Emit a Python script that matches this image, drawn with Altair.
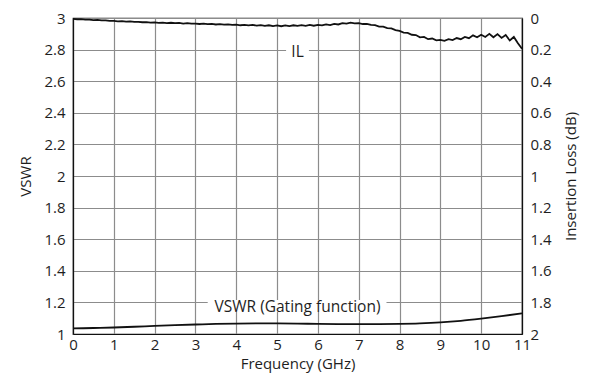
import altair as alt
import pandas as pd

# ---- data ----
il_freq = [round(i * 0.1, 1) for i in range(111)]
il_db = [
    0.006, 0.008, 0.007, 0.010, 0.010, 0.013, 0.012, 0.015, 0.015, 0.018,
    0.018, 0.021, 0.020, 0.023, 0.022, 0.025, 0.024, 0.027, 0.026, 0.029,
    0.028, 0.031, 0.029, 0.032, 0.030, 0.033, 0.031, 0.035, 0.033, 0.036,
    0.035, 0.038, 0.036, 0.039, 0.037, 0.041, 0.039, 0.042, 0.040, 0.044,
    0.042, 0.046, 0.043, 0.047, 0.044, 0.048, 0.045, 0.050, 0.046, 0.051,
    0.047, 0.052, 0.047, 0.051, 0.046, 0.050, 0.045, 0.050, 0.044, 0.049,
    0.043, 0.047, 0.040, 0.045, 0.037, 0.041, 0.033, 0.036, 0.029, 0.034,
    0.032, 0.038, 0.037, 0.044, 0.045, 0.054, 0.055, 0.064, 0.066, 0.077,
    0.082, 0.092, 0.094, 0.106, 0.108, 0.122, 0.120, 0.134, 0.130, 0.142,
    0.138, 0.144, 0.134, 0.140, 0.127, 0.134, 0.120, 0.128, 0.110, 0.122,
    0.106, 0.120, 0.100, 0.122, 0.102, 0.126, 0.108, 0.142, 0.120, 0.160,
    0.195,
]
vswr_freq = [0, 0.5, 1, 1.5, 2, 2.5, 3, 3.5, 4, 4.5, 5, 5.5, 6, 6.5, 7, 7.5,
             8, 8.5, 9, 9.5, 10, 10.5, 11]
vswr_val = [1.035, 1.038, 1.041, 1.046, 1.051, 1.056, 1.060, 1.064, 1.066,
            1.067, 1.067, 1.066, 1.064, 1.063, 1.063, 1.063, 1.064, 1.067,
            1.073, 1.083, 1.097, 1.113, 1.131]

label_text = ["IL", "VSWR (Gating function)"]
label_x = [5.5, 5.5]
label_y = [2.785, 1.174]
box_x1 = [5.22, 3.3]
box_x2 = [5.78, 7.68]
box_y1 = [2.76, 1.14]
box_y2 = [2.82, 1.215]

x_ticks = list(range(0, 12))
vswr_ticks = [1, 1.2, 1.4, 1.6, 1.8, 2, 2.2, 2.4, 2.6, 2.8, 3]
il_ticks = [0, 0.2, 0.4, 0.6, 0.8, 1, 1.2, 1.4, 1.6, 1.8, 2]

il_df = pd.DataFrame({"f": il_freq, "il": il_db})
vswr_df = pd.DataFrame({"f": vswr_freq, "v": vswr_val})
lab_df = pd.DataFrame({"t": label_text, "x": label_x, "y": label_y})
box_df = pd.DataFrame({"x1": box_x1, "x2": box_x2, "y1": box_y1, "y2": box_y2})

FONT = "Open Sans"
TXT = "#1e1e1e"
H = 316

xscale = alt.Scale(domain=[0, 11], nice=False)
xaxis = alt.Axis(values=x_ticks, title="Frequency (GHz)", grid=True,
                 ticks=False, labelPadding=3, titlePadding=4,
                 format="d", labelFlush=False, labelOverlap=False)

yscale = alt.Scale(domain=[1, 3], nice=False)
yaxis = alt.Axis(values=vswr_ticks, title="VSWR", grid=True, ticks=False,
                 labelPadding=8, titlePadding=10, labelFlush=False,
                 labelOverlap=False, format="~g")

vswr_line = alt.Chart(vswr_df).mark_line(color="#111", strokeWidth=1.8,
                                         interpolate="monotone").encode(
    x=alt.X("f:Q", scale=xscale, axis=xaxis),
    y=alt.Y("v:Q", scale=yscale, axis=yaxis))

boxes = alt.Chart(box_df).mark_rect(color="white").encode(
    x=alt.X("x1:Q", scale=xscale, axis=xaxis), x2="x2:Q",
    y=alt.Y("y1:Q", scale=yscale, axis=yaxis), y2="y2:Q")

labels = alt.Chart(lab_df).mark_text(font=FONT, fontSize=15.5, color=TXT,
                                     baseline="middle", align="center").encode(
    x=alt.X("x:Q", scale=xscale, axis=xaxis),
    y=alt.Y("y:Q", scale=yscale, axis=yaxis), text="t:N")

left = alt.layer(vswr_line, boxes, labels)

il_line = alt.Chart(il_df).mark_line(color="#111", strokeWidth=1.8).encode(
    x=alt.X("f:Q", scale=xscale, axis=xaxis),
    y=alt.Y("il:Q", scale=alt.Scale(domain=[0, 2], reverse=True, nice=False),
            axis=alt.Axis(values=il_ticks, title="Insertion Loss (dB)",
                          orient="right", grid=False, ticks=False,
                          labelPadding=8, labelFlush=False,
                          labelOverlap=False, format="~g", titleAngle=270,
                          titleBaseline="middle", titleAlign="center",
                          titleX=48, titleY=H / 2)))

chart = alt.layer(left, il_line).resolve_scale(y="independent").properties(
    width=449, height=H,
    autosize=alt.AutoSizeParams(type="none"),
    padding={"left": 65, "top": 10, "right": 70, "bottom": 50},
).configure_axis(
    labelFont=FONT, titleFont=FONT, labelFontSize=15, titleFontSize=15,
    labelColor=TXT, titleColor=TXT, titleFontWeight="normal",
    domainColor="#111", domainWidth=1.2, gridColor="#8c8c8c", gridWidth=1.2,
).configure_view(stroke="#111", strokeWidth=1.2)

chart.save("out.html", embed_options={"renderer": "svg", "actions": False})
